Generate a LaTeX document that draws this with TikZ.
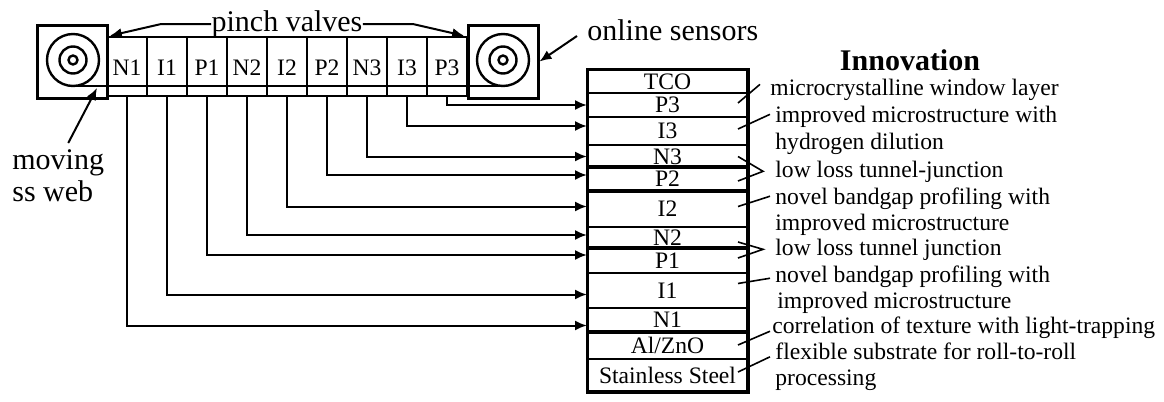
\documentclass[tikz,border=0pt]{standalone}
\usepackage{fontspec}
\setmainfont{Liberation Serif}
\usetikzlibrary{positioning,arrows.meta,calc}
\tikzset{
  cell/.style  ={draw, rectangle, line width=1.2pt, minimum width=20pt, minimum height=24.5pt, inner sep=0pt, text height=14pt, text depth=0pt, font=\fontsize{11.8}{14}\selectfont},
  strip/.style ={draw, rectangle, line width=1.2pt, minimum width=20pt, minimum height=5pt, inner sep=0pt},
  roll/.style  ={draw, rectangle, line width=1.5pt, minimum width=35pt, minimum height=36.5pt, inner sep=0pt},
  layer/.style ={draw, rectangle, line width=1pt, minimum width=79.5pt, inner sep=0pt, font=\fontsize{11.8}{14}\selectfont},
  note/.style  ={anchor=base west, inner sep=0pt, font=\fontsize{11.8}{14}\selectfont},
  big/.style   ={inner sep=0pt, font=\fontsize{15}{16}\selectfont},
  arr/.style   ={-{Latex[length=6pt,width=5pt]}, line width=1pt},
  lead/.style  ={line width=0.8pt},
}

\begin{document}
\begin{tikzpicture}[x=0.5pt, y=-0.5pt]
  \useasboundingbox (0,0) rectangle (1164,402);

  % rolls at both ends of the deposition line
  \node[roll] (lroll) at (72,61.5)  {};
  \node[roll] (rroll) at (503,61.5) {};
  \draw[line width=1.2pt] (73,60) circle (13pt) (73,60) circle (6.75pt) (73,60) circle (2.25pt);
  \draw[line width=1.2pt] (503,60) circle (13pt) (503,60) circle (6.75pt) (503,60) circle (2.25pt);

  % chambers -- one cell per layer, small strip below each
  \node[cell] (c-N1) at (127,61.5) {N1};
  \node[cell] (c-I1) at (167,61.5) {I1};
  \node[cell] (c-P1) at (207,61.5) {P1};
  \node[cell] (c-N2) at (247,61.5) {N2};
  \node[cell] (c-I2) at (287,61.5) {I2};
  \node[cell] (c-P2) at (327,61.5) {P2};
  \node[cell] (c-N3) at (367,61.5) {N3};
  \node[cell] (c-I3) at (407,61.5) {I3};
  \node[cell] (c-P3) at (447,61.5) {P3};
  \node[strip] (s-N1) at (127,91) {};
  \node[strip] (s-I1) at (167,91) {};
  \node[strip] (s-P1) at (207,91) {};
  \node[strip] (s-N2) at (247,91) {};
  \node[strip] (s-I2) at (287,91) {};
  \node[strip] (s-P2) at (327,91) {};
  \node[strip] (s-N3) at (367,91) {};
  \node[strip] (s-I3) at (407,91) {};
  \node[strip] (s-P3) at (447,91) {};

  % the web runs from roll to roll
  \draw[line width=1.2pt] (73,86) -- (503,86);

  % top labels
  \node[big] (pv) at (287,24) {pinch valves};
  \draw[arr] (pv.west) -- ++(-50,0) -- ([xshift=2pt]c-N1.north west);
  \draw[arr] (pv.east) -- ++(50,0) -- ([xshift=-2pt]c-P3.north east);
  \node[big, anchor=west] (os) at (587,30) {online sensors};
  \draw[arr] ([xshift=-5pt,yshift=-3pt]os.west) -- (rroll.east);
  \node[big, align=left, anchor=north west] (mw) at (12,149) {moving\\ss web};
  \coordinate (webpt) at (97,88);
  \draw[arr] ([xshift=5pt,yshift=3pt]mw.north) -- (webpt);

  % layer stack of the triple cell
  \node[layer, minimum height=11.5pt] (ly-TCO) at (667.5,81.5) {TCO};
  \node[layer, minimum height=12pt]   (ly-P3)  at (667.5,105)  {P3};
  \node[layer, minimum height=14pt]   (ly-I3)  at (667.5,131)  {I3};
  \node[layer, minimum height=11.5pt] (ly-N3)  at (667.5,156.5) {N3};
  \node[layer, minimum height=11pt]   (ly-P2)  at (667.5,179)  {P2};
  \node[layer, minimum height=18.5pt] (ly-I2)  at (667.5,208.5) {I2};
  \node[layer, minimum height=11pt]   (ly-N2)  at (667.5,238)  {N2};
  \node[layer, minimum height=12pt]   (ly-P1)  at (667.5,261)  {P1};
  \node[layer, minimum height=17.5pt] (ly-I1)  at (667.5,290.5) {I1};
  \node[layer, minimum height=11.5pt] (ly-N1)  at (667.5,319.5) {N1};
  \node[layer, minimum height=14pt]   (ly-AZO) at (667.5,345)  {Al/ZnO};
  \node[layer, minimum height=16pt]   (ly-SS)  at (667.5,375)  {Stainless Steel};
  \draw[line width=1.5pt] (ly-TCO.north west) rectangle (ly-SS.south east);
  \draw[line width=1.6pt] (ly-P2.north west) -- (ly-P2.north east);
  \draw[line width=1.6pt] (ly-P2.south west) -- (ly-P2.south east);
  \draw[line width=1.6pt] (ly-P1.north west) -- (ly-P1.north east);
  \draw[line width=1.6pt] (ly-N1.south west) -- (ly-N1.south east);

  % each chamber feeds its layer
  \draw[arr] (s-P3.south) |- (ly-P3.west);
  \draw[arr] (s-I3.south) |- ([yshift=2.5pt]ly-I3.west);
  \draw[arr] (s-N3.south) |- (ly-N3.west);
  \draw[arr] (s-P2.south) |- ([yshift=2pt]ly-P2.west);
  \draw[arr] (s-I2.south) |- ([yshift=1pt]ly-I2.west);
  \draw[arr] (s-N2.south) |- ([yshift=1.5pt]ly-N2.west);
  \draw[arr] (s-P1.south) |- ([yshift=3pt]ly-P1.west);
  \draw[arr] (s-I1.south) |- ([yshift=-2pt]ly-I1.west);
  \draw[arr] (s-N1.south) |- ([yshift=-3pt]ly-N1.west);

  % innovation notes
  \node[font=\fontsize{15}{16}\selectfont\bfseries, inner sep=0pt] (inno) at (910,60) {Innovation};
  \node[note] (n-win)  at (770,95)  {microcrystalline window layer};
  \node[note] (n-h1)   at (775,122) {improved microstructure with};
  \node[note] (n-h2)   at (775,149) {hydrogen dilution};
  \node[note] (n-tj3)  at (775,177) {low loss tunnel-junction};
  \node[note] (n-bg2a) at (775,204) {novel bandgap profiling with};
  \node[note] (n-bg2b) at (775,230) {improved microstructure};
  \node[note] (n-tj2)  at (775,255) {low loss tunnel junction};
  \node[note] (n-bg1a) at (775,282) {novel bandgap profiling with};
  \node[note] (n-bg1b) at (777,308) {improved microstructure};
  \node[note] (n-tex)  at (772,333) {correlation of texture with light-trapping};
  \node[note] (n-sub1) at (775,359) {flexible substrate for roll-to-roll};
  \node[note] (n-sub2) at (775,385) {processing};

  \draw[lead] ([xshift=-5pt,yshift=1pt]ly-P3.east) -- ([xshift=-5pt,yshift=2.5pt]n-win.west);
  \draw[lead] ([xshift=-5pt,yshift=1pt]ly-I3.east) -- ([xshift=-2.5pt,yshift=1pt]n-h1.west);
  \draw[lead] ([xshift=-5pt]ly-N3.east) -- ([xshift=-6pt]n-tj3.west) -- ([xshift=-5pt,yshift=-1pt]ly-P2.east);
  \draw[lead] ([xshift=-5pt,yshift=1pt]ly-I2.east) -- ([xshift=-2.5pt,yshift=1pt]n-bg2a.west);
  \draw[lead] ([xshift=-5pt,yshift=-2pt]ly-N2.east) -- ([xshift=-6pt]n-tj2.west) -- ([xshift=-5pt,yshift=1.5pt]ly-P1.east);
  \draw[lead] ([xshift=-5pt,yshift=3.5pt]ly-I1.east) -- ([xshift=-2.5pt,yshift=-1pt]n-bg1a.west);
  \draw[lead] ([xshift=-5pt]ly-AZO.east) -- ([xshift=-1pt,yshift=-2pt]n-tex.west);
  \draw[lead] ([xshift=-5pt,yshift=1.5pt]ly-SS.east) -- ([xshift=-2.5pt,yshift=-3pt]n-sub1.west);
\end{tikzpicture}
\end{document}
